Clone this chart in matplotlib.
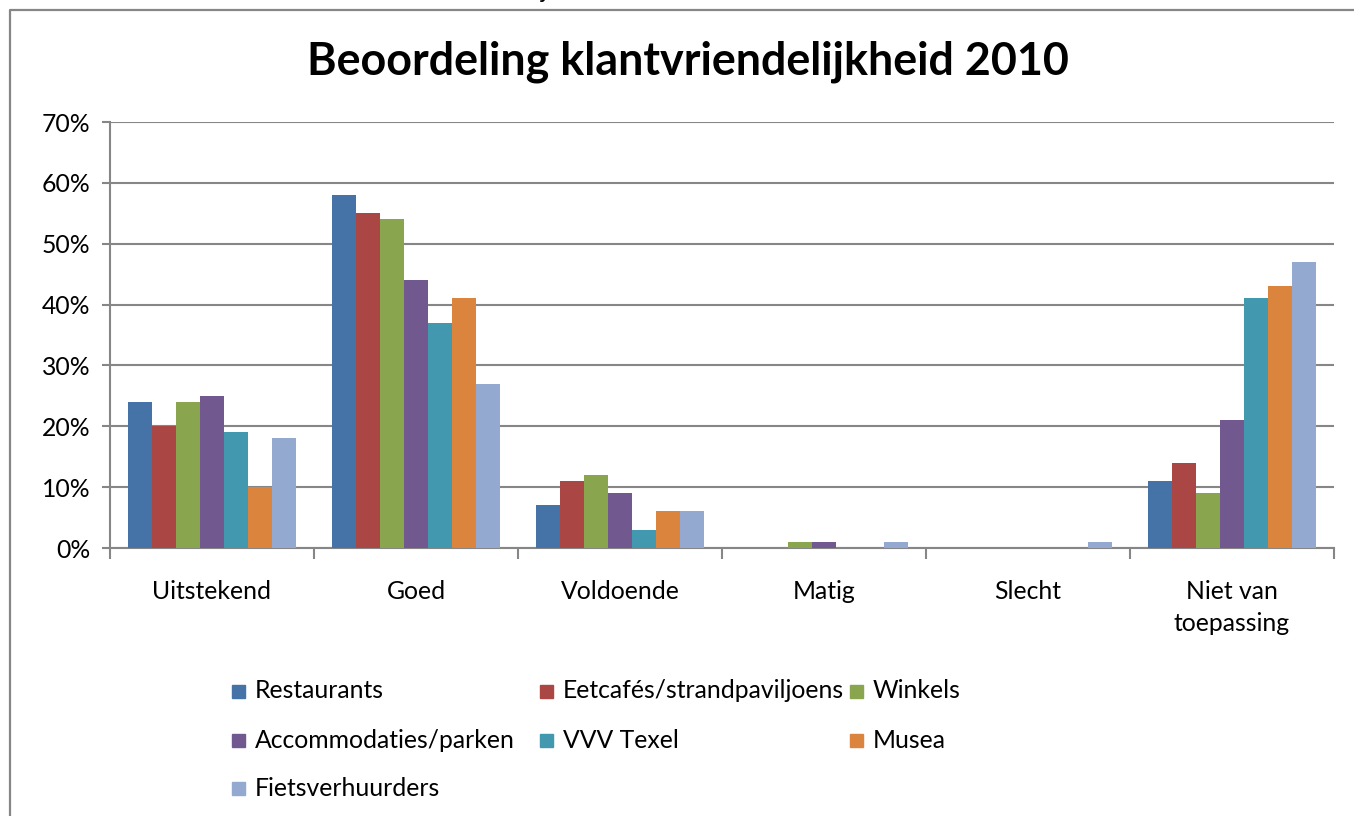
import matplotlib
matplotlib.use("Agg")
import matplotlib.pyplot as plt
from matplotlib.lines import Line2D
from matplotlib.patches import Rectangle
import numpy as np

plt.rcParams['font.family'] = ['Lato', 'DejaVu Sans']

# ---- data ----
categories = ["Uitstekend", "Goed", "Voldoende", "Matig", "Slecht", "Niet van\ntoepassing"]
series_names = ["Restaurants", "Eetcafés/strandpaviljoens", "Winkels",
                "Accommodaties/parken", "VVV Texel", "Musea", "Fietsverhuurders"]
restaurants = [24, 58, 7, 0, 0, 11]
eetcafes = [20, 55, 11, 0, 0, 14]
winkels = [24, 54, 12, 1, 0, 9]
accommodaties = [25, 44, 9, 1, 0, 21]
vvv_texel = [19, 37, 3, 0, 0, 41]
musea = [10, 41, 6, 0, 0, 43]
fietsverhuurders = [18, 27, 6, 1, 1, 47]
series_values = [restaurants, eetcafes, winkels, accommodaties, vvv_texel, musea, fietsverhuurders]
colors = ["#4572A7", "#AA4643", "#89A54E", "#71588F", "#4198AF", "#DB843D", "#93A9CF"]
yticks = [0, 10, 20, 30, 40, 50, 60, 70]
title = "Beoordeling klantvriendelijkheid 2010"

W, H = 1354, 816
fig = plt.figure(figsize=(W / 100, H / 100), dpi=100)
fig.patch.set_facecolor("white")

def fx(px):
    return px / W

def fy(py):
    return 1 - py / H

ax = fig.add_axes([fx(110), fy(548), fx(1334) - fx(110), fy(122) - fy(548)])
gray = "#868686"
fs = 17.8

n = len(series_names)
bw = 1 / (n + 1.5)
x = np.arange(len(categories))
for i, (vals, c) in enumerate(zip(series_values, colors)):
    ax.bar(x + (i - (n - 1) / 2) * bw, vals, width=bw, color=c, zorder=3,
           edgecolor="none")

ax.set_xlim(-0.5, len(categories) - 0.5)
ax.set_ylim(0, 70)
ax.set_yticks(yticks)
ax.set_yticklabels([f"{v}%" for v in yticks], fontsize=fs)
ax.yaxis.grid(True, color=gray, linewidth=1.5, zorder=0)
ax.set_axisbelow(True)
ax.tick_params(axis="y", length=6, width=1.5, color=gray, pad=8)

ax.set_xticks(x)
ax.set_xticklabels(categories, fontsize=fs, linespacing=1.5)
ax.tick_params(axis="x", which="major", length=0, pad=23)
ax.set_xticks(np.arange(-0.5, len(categories), 1.0), minor=True)
ax.tick_params(axis="x", which="minor", length=8, width=1.5, color=gray)

for s in ["top", "right"]:
    ax.spines[s].set_visible(False)
for s in ["left", "bottom"]:
    ax.spines[s].set_color(gray)
    ax.spines[s].set_linewidth(1.5)

# title
fig.text(fx(688), fy(62), title, ha="center", va="center", fontsize=32.3,
         fontweight="bold")

# legend (Excel style, row-major, 3 columns)
col_x = [232, 540, 850]
row_y = [691, 740, 788]
for k, (name, c) in enumerate(zip(series_names, colors)):
    r, cidx = divmod(k, 3)
    px, py = col_x[cidx], row_y[r]
    fig.patches.append(Rectangle((fx(px), fy(py + 6.5)), fx(13), 13 / H,
                                 transform=fig.transFigure, color=c))
    fig.text(fx(px + 23), fy(py), name, ha="left", va="center", fontsize=fs)

# chart area border (left + top visible)
fig.lines.append(Line2D([fx(10), fx(10), 1.0], [0.0, fy(10), fy(10)],
                        transform=fig.transFigure, color=gray, linewidth=1.6))

# clipped text from above
fig.text(fx(541), fy(-2), "j", ha="left", va="baseline", fontsize=fs)

fig.savefig("out.png", dpi=100, facecolor="white")
